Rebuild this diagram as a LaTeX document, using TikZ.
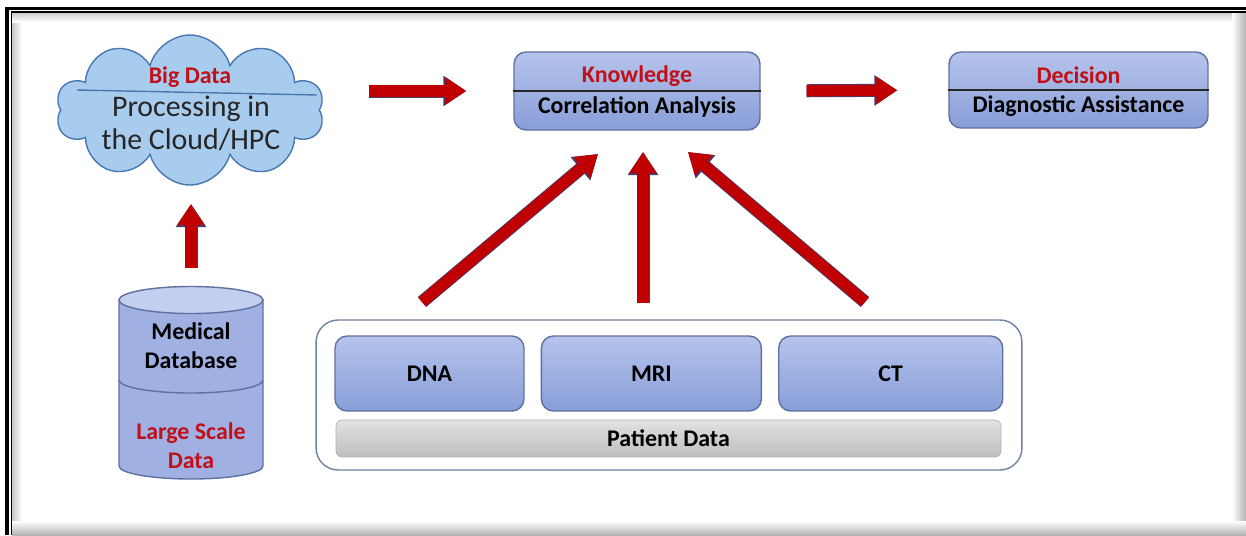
\documentclass[tikz,border=0pt]{standalone}
\usepackage{fontspec}
\setmainfont{Carlito}
\usepackage{xcolor}
\usetikzlibrary{arrows.meta, positioning, calc, shapes.symbols}

\definecolor{boxtop}{RGB}{182,196,236}
\definecolor{boxbot}{RGB}{136,158,216}
\definecolor{boxedge}{RGB}{96,112,160}
\definecolor{cloudfill}{RGB}{168,204,238}
\definecolor{cloudedge}{RGB}{72,120,178}
\definecolor{textred}{RGB}{192,16,24}
\definecolor{arrowred}{RGB}{192,0,0}
\definecolor{arrowedge}{RGB}{70,60,110}
\definecolor{bartop}{RGB}{226,226,226}
\definecolor{barbot}{RGB}{190,190,190}
\definecolor{panedge}{RGB}{110,130,160}
\definecolor{dbtop}{RGB}{196,206,238}
\definecolor{dbfill}{RGB}{160,176,226}

\newcommand\boxfont{\fontsize{13.6}{16.4}\selectfont\bfseries}

\begin{document}
\begin{tikzpicture}[x=0.02cm, y=-0.02cm,
  infobox/.style={draw=boxedge, top color=boxtop, bottom color=boxbot, rounded corners=0.24cm, line width=0.8pt},
  databox/.style={infobox, minimum height=1.5cm, font=\boxfont},
  headtext/.style={font=\boxfont, text=textred, align=center},
  bodytext/.style={font=\boxfont, align=center},
  bigarrow/.style={draw=arrowred, line width=6.4pt, -{Triangle[length=0.42cm, width=0.52cm]},
    preaction={draw=arrowedge, line width=7.4pt, -{Triangle[length=0.46cm, width=0.58cm]}}},
]
% frame
\useasboundingbox (0,0) rectangle (1246,535);
\fill[white] (0,0) rectangle (1246,535);
\shade[left color=black!22, right color=white] (12,12) rectangle (22,535);
\shade[top color=black!22, bottom color=white] (12,12) rectangle (1246,22);
\shade[left color=white, right color=black!30] (1232,12) rectangle (1246,535);
\shade[top color=white, bottom color=black!30] (12,521) rectangle (1246,535);
\draw[line width=2pt] (7,535) -- (7,8.5) -- (1246,8.5);
\draw[line width=0.6pt] (11.5,535) -- (11.5,12) -- (1246,12);

% cloud
\node[cloud, cloud puffs=10, cloud ignores aspect, draw=cloudedge, fill=cloudfill, line width=0.8pt,
  minimum width=5.36cm, minimum height=3cm, inner sep=0pt] (cloud) at (190,110) {};
\draw[cloudedge, line width=0.8pt] (77,90) -- (317,95);
\node[headtext] (bigdata) at (190,77) {Big Data};
\node[font=\fontsize{17}{18.7}\selectfont, align=center, text=black!85] (proc) at (191,123) {Processing in\\the Cloud/HPC};

% knowledge / decision
\node[infobox, minimum width=4.92cm, minimum height=1.56cm] (know) at (637,91) {};
\draw[line width=1pt, black!85] (know.west) -- (know.east);
\node[headtext] (knowhead) at ($(know)+(0,-15)$) {Knowledge};
\node[bodytext] (knowbody) at ($(know)+(0,16)$) {Correlation Analysis};

\node[infobox, minimum width=5.18cm, minimum height=1.52cm] (dec) at (1078.5,90) {};
\draw[line width=1pt, black!85] (dec.west) -- (dec.east);
\node[headtext] (dechead) at ($(dec)+(0,-15)$) {Decision};
\node[bodytext] (decbody) at ($(dec)+(0,16)$) {Diagnostic Assistance};

% database
\node[minimum width=2.88cm, minimum height=3.86cm, inner sep=0pt] (db) at (191,383) {};
\filldraw[draw=boxedge, fill=dbfill, line width=0.8pt] (119,300) -- (119,466)
  arc[start angle=180, end angle=0, x radius=72, y radius=13] -- (263,300) -- cycle;
\draw[boxedge, line width=0.8pt] (119,380) arc[start angle=180, end angle=0, x radius=72, y radius=13];
\filldraw[draw=boxedge, fill=dbtop, line width=0.8pt] (191,300) ellipse[x radius=72, y radius=13.5];
\node[bodytext] (dbhead) at (191,346) {Medical\\Database};
\node[headtext] (dbbody) at (191,446) {Large Scale\\Data};

% patient data
\node[draw=panedge, fill=white, rounded corners=0.44cm, line width=0.8pt,
  minimum width=14.12cm, minimum height=3cm] (patient) at (669,395) {};
\node[databox, minimum width=3.78cm] (dna) at (429.5,373.5) {DNA};
\node[databox, minimum width=4.4cm, right=0.32cm of dna] (mri) {MRI};
\node[databox, minimum width=4.48cm, right=0.32cm of mri] (ct) {CT};
\node[draw=black!30, top color=bartop, bottom color=barbot, rounded corners=0.12cm,
  minimum width=13.3cm, minimum height=0.74cm, font=\boxfont] (bar) at (668.5,438.5) {Patient Data};

% arrows
\coordinate (cloudin) at (191,204);
\coordinate (tail1) at (422,302);
\coordinate (tip1) at (598,154);
\coordinate (tail2) at (643,303);
\coordinate (tip2) at (643,152);
\coordinate (tail3) at (865,302);
\coordinate (tip3) at (688,152);
\draw[bigarrow, shorten <=0.98cm, shorten >=0.94cm] (cloud.east |- know.west) -- (know.west);
\draw[bigarrow, shorten <=0.92cm, shorten >=1.02cm] (know.east) -- (dec.west);
\draw[bigarrow, shorten <=0.36cm] (db.north) -- (cloudin);
\draw[bigarrow] (tail1) -- (tip1);
\draw[bigarrow] (tail2) -- (tip2);
\draw[bigarrow] (tail3) -- (tip3);
\end{tikzpicture}
\end{document}
